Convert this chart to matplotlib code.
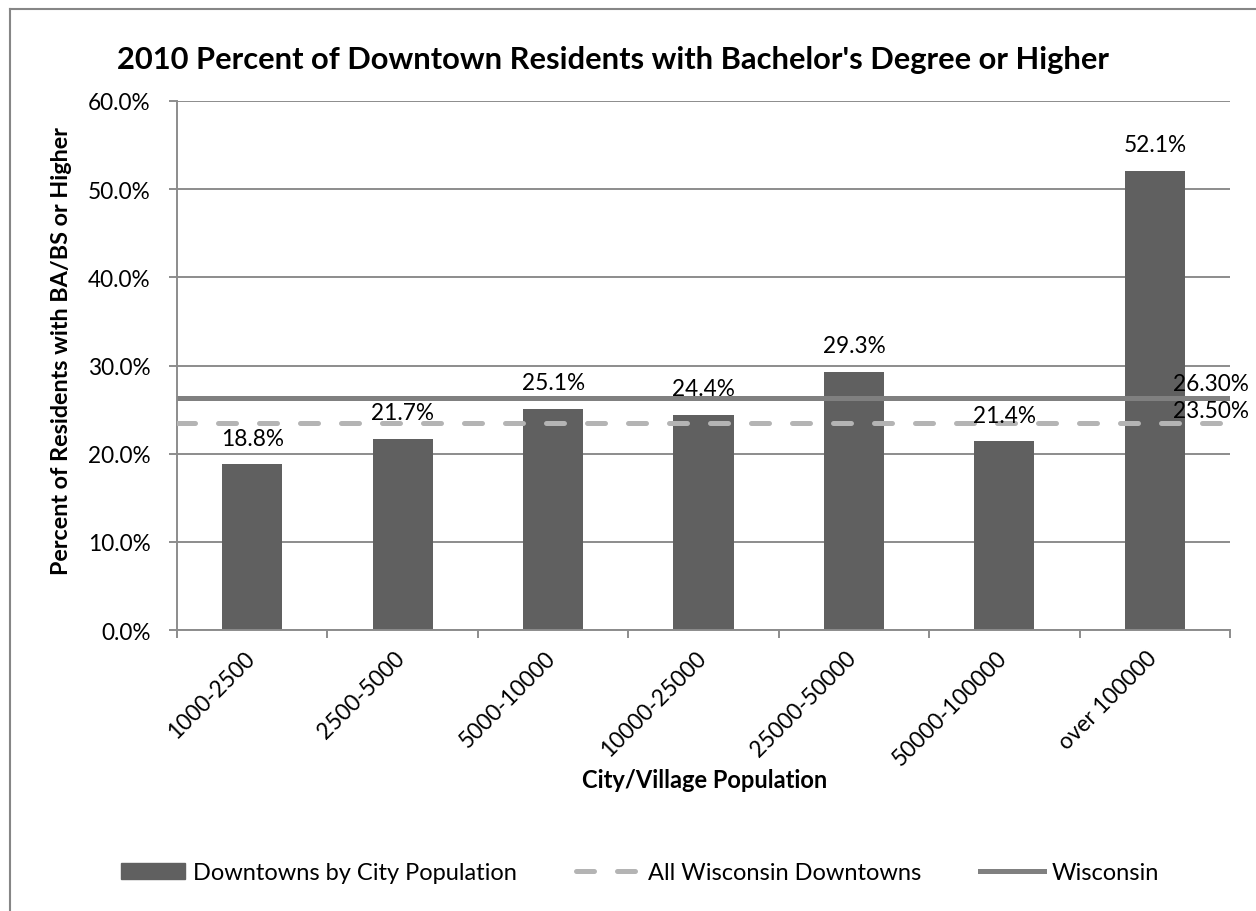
import matplotlib
matplotlib.use("Agg")
import matplotlib.pyplot as plt
from matplotlib.lines import Line2D
from matplotlib.patches import Patch
from matplotlib.ticker import FixedLocator, PercentFormatter
import numpy as np

plt.rcParams['font.family'] = ['Lato', 'DejaVu Sans']

categories = ["1000-2500", "2500-5000", "5000-10000", "10000-25000",
              "25000-50000", "50000-100000", "over 100000"]
downtown_pct = [18.8, 21.7, 25.1, 24.4, 29.3, 21.4, 52.1]
all_wi_downtowns = 23.50
wisconsin = 26.30

title = "2010 Percent of Downtown Residents with Bachelor's Degree or Higher"
y_label = "Percent of Residents with BA/BS or Higher"
x_label = "City/Village Population"
legend_labels = ["Downtowns by City Population", "All Wisconsin Downtowns", "Wisconsin"]

BAR = "#606060"
DASH = "#b4b4b4"
SOLID = "#808080"
GRID = "#8c8c8c"
FS = 16.3

W, H = 1256, 912
fig = plt.figure(figsize=(W / 100, H / 100), dpi=100)
ax = fig.add_axes([177 / W, 1 - 631 / H, (1230 - 177) / W, (631 - 102) / H])

n = len(categories)
x = np.arange(n)
ax.bar(x, downtown_pct, width=0.4, color=BAR, zorder=2)
for xi, v in zip(x, downtown_pct):
    ax.annotate(f"{v:.1f}%", (xi, v), xytext=(0, 14), textcoords="offset points",
                ha="center", va="baseline", fontsize=FS, color="black", zorder=4)

xs = [-0.5, n - 0.5]
ax.plot(xs, [wisconsin, wisconsin], color=SOLID, lw=3.6, solid_capstyle="butt", zorder=3)
ax.plot(xs, [all_wi_downtowns, all_wi_downtowns], color=DASH, lw=3.6,
        dashes=(3.6, 4.6), dash_capstyle="round", zorder=3)
ax.annotate(f"{wisconsin:.2f}%", (n - 0.5, wisconsin), xytext=(-14, 6),
            textcoords="offset points", ha="center", va="baseline", fontsize=FS)
ax.annotate(f"{all_wi_downtowns:.2f}%", (n - 0.5, all_wi_downtowns), xytext=(-14, 4),
            textcoords="offset points", ha="center", va="baseline", fontsize=FS)

ax.set_xlim(-0.5, n - 0.5)
ax.set_ylim(0, 60)
ax.yaxis.set_major_locator(FixedLocator(np.arange(0, 61, 10)))
ax.yaxis.set_major_formatter(PercentFormatter(decimals=1))
ax.grid(axis="y", color=GRID, lw=1.4, zorder=0)
ax.set_axisbelow(True)

# category labels: invisible major ticks nudged slightly left so each
# rotated label ends just over its category centre
label_nudge = 0.055
ax.set_xticks(x - label_nudge)
ax.set_xticklabels(categories, rotation=45, ha="right", rotation_mode="anchor",
                   fontsize=FS)
ax.set_xticks(np.arange(-0.5, n, 1.0), minor=True)
ax.tick_params(axis="x", which="major", length=0, pad=12)
ax.tick_params(axis="x", which="minor", length=6, width=1.4, color=GRID)
ax.tick_params(axis="y", length=6, width=1.4, color=GRID, labelsize=FS, pad=13)

for side in ["top", "right"]:
    ax.spines[side].set_visible(False)
for side in ["left", "bottom"]:
    ax.spines[side].set_color(GRID)
    ax.spines[side].set_linewidth(1.4)

fig.text(613 / W, 1 - 60 / H, title, ha="center", va="center",
         fontsize=22.2, fontweight="bold")
fig.text(62 / W, 1 - 351 / H, y_label, ha="center", va="center", rotation=90,
         fontsize=16.8, fontweight="bold")
fig.text(705 / W, 1 - 781 / H, x_label, ha="center", va="center",
         fontsize=17, fontweight="bold")

handles = [
    Patch(facecolor=BAR, edgecolor=BAR),
    Line2D([], [], color=DASH, lw=3.6, dashes=(3.6, 4.6), dash_capstyle="round"),
    Line2D([], [], color=SOLID, lw=3.6),
]
fig.legend(handles, legend_labels, loc="center", bbox_to_anchor=(640 / W, 1 - 874 / H),
           ncol=3, frameon=False, fontsize=17, handlelength=2.7, handleheight=0.65,
           handletextpad=0.34, columnspacing=2.5)

# outer frame edges
fig.add_artist(Line2D([10 / W, 10 / W], [0, 1 - 10 / H], color="#868686", lw=1.5))
fig.add_artist(Line2D([10 / W, 1], [1 - 10 / H, 1 - 10 / H], color="#868686", lw=1.5))

fig.savefig("out.png", dpi=100, facecolor="white")
